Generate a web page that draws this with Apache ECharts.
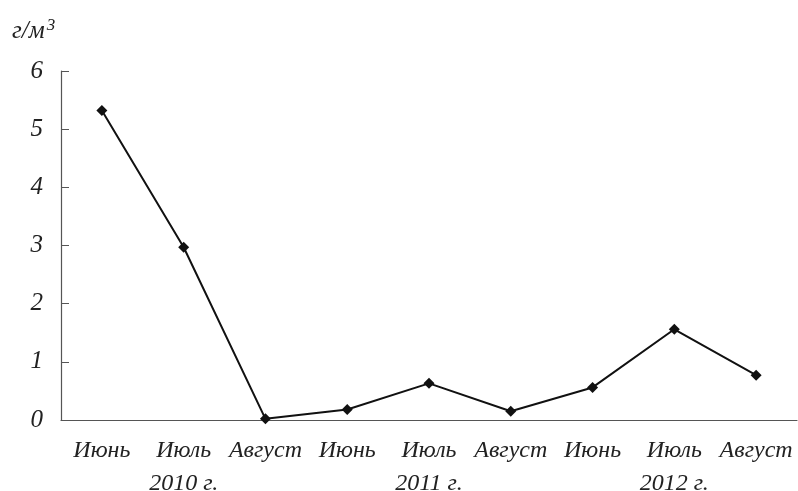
<!DOCTYPE html>
<html>
<head>
<meta charset="utf-8">
<script src="https://cdn.jsdelivr.net/npm/echarts@6/dist/echarts.min.js"></script>
<style>
  html, body { margin: 0; padding: 0; background: #fff; }
  #chart { width: 798px; height: 491px; }
</style>
</head>
<body>
<div id="chart"></div>
<script>
// Месяцы наблюдений (подпись года под июлем)
const months = ['Июнь', 'Июль\n2010 г.', 'Август', 'Июнь', 'Июль\n2011 г.', 'Август', 'Июнь', 'Июль\n2012 г.', 'Август'];
// Значения, г/м3
const values = [5.32, 2.97, 0.02, 0.18, 0.63, 0.15, 0.56, 1.56, 0.77];
const yTicks = [0, 1, 2, 3, 4, 5, 6];

const serif = '"Liberation Serif", "DejaVu Serif", serif';
const chart = echarts.init(document.getElementById('chart'));

const option = {
    animation: false,
    grid: { left: 61, right: 1, top: 71, bottom: 71, outerBoundsMode: 'none', containLabel: false },
    graphic: [{
        type: 'text',
        left: 12,
        top: 17,
        style: {
            text: '{a|г/м}{s|3}',
            rich: {
                a: { fontFamily: serif, fontStyle: 'italic', fontSize: 25, fill: '#222' },
                s: { fontFamily: serif, fontStyle: 'italic', fontSize: 17, fill: '#222', verticalAlign: 'top', padding: [0, 0, 12, 2] }
            }
        }
    }],
    xAxis: {
        type: 'category',
        data: months,
        boundaryGap: true,
        axisLine: { lineStyle: { color: '#555', width: 1.2 } },
        axisTick: { inside: true, length: 7, lineStyle: { color: '#555' } },
        axisLabel: {
            fontFamily: serif,
            fontStyle: 'italic',
            fontSize: 24,
            color: '#222',
            margin: 14,
            lineHeight: 33,
            interval: 0,
            hideOverlap: false
        }
    },
    yAxis: {
        type: 'value',
        min: 0,
        max: 6,
        interval: 1,
        splitLine: { show: false },
        axisLine: { show: true, lineStyle: { color: '#555', width: 1.2 } },
        axisTick: { show: true, inside: true, length: 8, lineStyle: { color: '#555' } },
        axisLabel: {
            fontFamily: serif,
            fontStyle: 'italic',
            fontSize: 25,
            color: '#222',
            margin: 18,
            formatter: function (v) { return yTicks.indexOf(v) >= 0 ? String(v) : ''; }
        }
    },
    series: [{
        type: 'line',
        data: values,
        symbol: 'diamond',
        symbolSize: 11,
        lineStyle: { color: '#111', width: 2 },
        itemStyle: { color: '#111' }
    }]
};

chart.setOption(option);
</script>
</body>
</html>
